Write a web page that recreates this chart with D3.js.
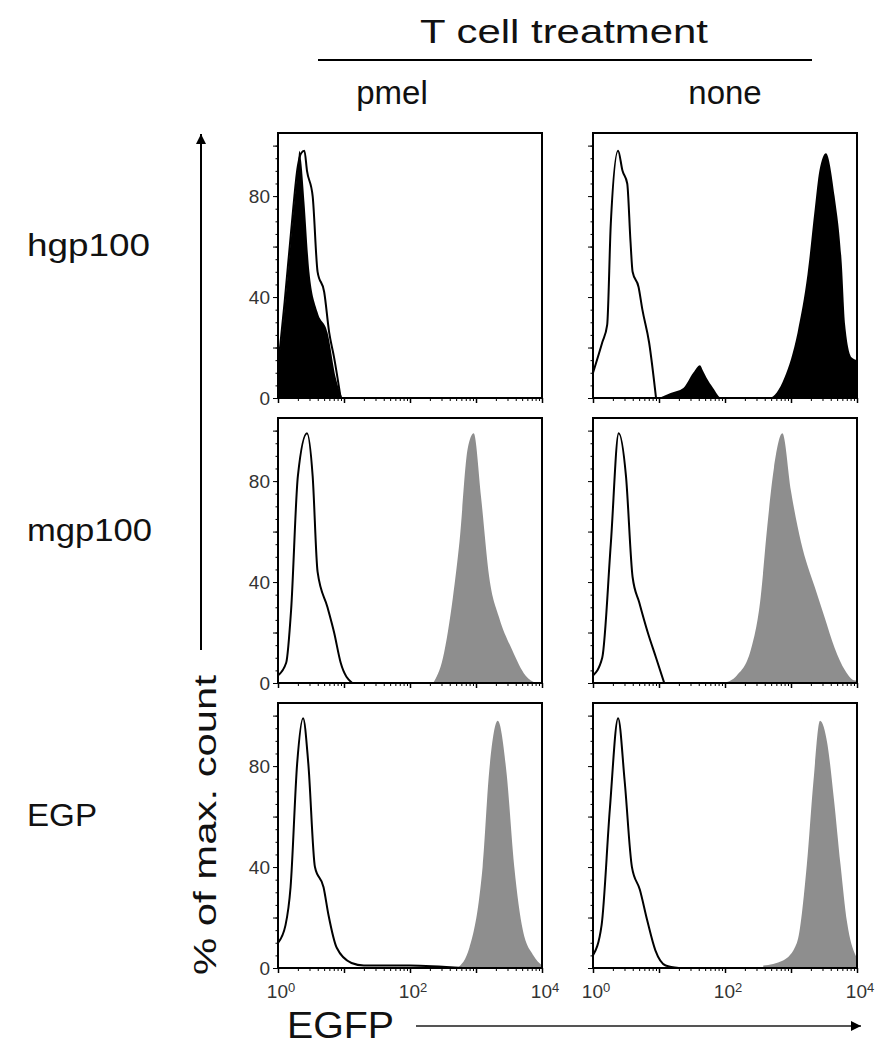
<!DOCTYPE html>
<html>
<head>
<meta charset="utf-8">
<script src="https://cdn.jsdelivr.net/npm/d3@7"></script>
<style>
body { margin: 0; background: #fff; }
text { font-family: "Liberation Sans", Arial, sans-serif; fill: #111; }
</style>
</head>
<body>
<div id="graphCanvas"></div>
<script>
// row / column names
var rowNames = ["hgp100", "mgp100", "EGP"];
var rowLabelWidths = [123, 125, 70];
var colNames = ["pmel", "none"];
var yTickLabels = [0, 40, 80];
var xTickLabels = [1, 100, 10000];
var xTickExp = ["0", "2", "4"];

// histograms: [EGFP, % of max]
var hgpPmelOpen = [[1,12],[1.26,38],[1.58,66],[2.0,92],[2.24,97],[2.51,98],[2.75,90],[3.35,80],[3.98,50],[5.01,42],[5.96,26],[7.08,16],[8.91,0]];
var hgpPmelFill = [[1,12],[1.26,36],[1.58,64],[2.0,92],[2.11,98],[2.24,94],[2.51,78],[2.99,50],[3.98,34],[5.62,26],[7.5,8],[9.44,0]];
var hgpNoneOpen = [[1,10],[1.38,22],[1.64,29],[1.86,69],[2.4,98],[2.8,90],[3.3,85],[3.7,62],[3.98,50],[4.9,44],[5.6,35],[7.08,22],[9.02,0]];
var hgpNoneFill = [[10,0],[15,2],[23.4,4],[33,10],[41.7,13],[46,11],[52.5,8],[66,4],[89,0],[468,0],[794,8],[1259,26],[1778,49],[2291,75],[2692,90],[3388,97],[4571,80],[5888,53],[6607,29],[8318,16],[10000,15]];
var mgpPmelOpen = [[1,3],[1.33,8],[1.58,29],[2.0,82],[2.75,99],[3.35,82],[3.98,44],[5.62,30],[7.08,20],[8.91,8],[13.3,0]];
var mgpPmelFill = [[224,0],[316,10],[447,34],[562,56],[750,93],[923,99],[1189,74],[1585,42],[2239,26],[3548,13],[5623,3],[8000,0]];
var mgpNoneOpen = [[1,3],[1.38,10],[1.86,55],[2.45,99],[3.16,82],[3.98,42],[5.01,32],[6.76,20],[9.02,10],[12,0]];
var mgpNoneFill = [[95.5,0],[151,3],[245,13],[347,34],[437,62],[550,85],[741,99],[1000,76],[1413,56],[2291,38],[3236,26],[4571,14],[6607,5],[9333,1],[10000,1]];
var egpPmelOpen = [[1,10],[1.3,17],[1.55,32],[1.95,81],[2.4,99],[2.88,81],[3.63,40],[4.9,32],[5.82,21],[7.76,8],[13,2],[20,1],[100,1],[631,0]];
var egpPmelFill = [[525,0],[794,8],[1122,28],[1259,40],[1585,78],[2138,98],[2884,78],[3802,40],[5129,15],[7413,5],[10000,1]];
var egpNoneOpen = [[1,5],[1.35,17],[1.8,63],[2.4,99],[3.02,74],[3.89,40],[5.13,31],[6.61,19],[8.81,7],[12.6,1],[20,0]];
var egpNoneFill = [[380,1],[759,3],[1230,10],[1738,41],[2188,74],[2754,98],[3548,89],[4467,67],[5623,41],[7079,18],[9550,5],[10000,4]];

var openSeries = [[hgpPmelOpen, hgpNoneOpen], [mgpPmelOpen, mgpNoneOpen], [egpPmelOpen, egpNoneOpen]];
var fillSeries = [[hgpPmelFill, hgpNoneFill], [mgpPmelFill, mgpNoneFill], [egpPmelFill, egpNoneFill]];

var width = 887, height = 1050;
var panelLeft = [278, 593], panelTop = [133, 418, 703];
var pw = 264, ph = 265;

var svg = d3.select("#graphCanvas").append("svg")
    .attr("width", width)
    .attr("height", height);

var defs = svg.append("defs");
defs.append("marker")
    .attr("id", "arrow")
    .attr("viewBox", "0 0 10 10")
    .attr("refX", 10).attr("refY", 5)
    .attr("markerWidth", 10).attr("markerHeight", 10)
    .attr("markerUnits", "userSpaceOnUse")
    .attr("orient", "auto")
  .append("path")
    .attr("d", "M0,0L10,5L0,10Z")
    .attr("fill", "#000");

var x = d3.scaleLog().domain([1, 10000]).range([0, pw]);
var y = d3.scaleLinear().domain([0, 105]).range([ph, 0]);

var area = d3.area()
    .curve(d3.curveMonotoneX)
    .x(function(d) { return x(d[0]); })
    .y0(y(0))
    .y1(function(d) { return y(d[1]); });
var line = d3.line()
    .curve(d3.curveMonotoneX)
    .x(function(d) { return x(d[0]); })
    .y(function(d) { return y(d[1]); });

var minorX = x.ticks().filter(function(v) { return Math.log10(v) % 1 !== 0; });

defs.append("clipPath").attr("id", "panelClip")
  .append("rect").attr("width", pw).attr("height", ph);

rowNames.forEach(function(rowName, r) {
  colNames.forEach(function(colName, c) {
    var g = svg.append("g")
        .attr("transform", "translate(" + panelLeft[c] + "," + panelTop[r] + ")");

    var plot = g.append("g").attr("clip-path", "url(#panelClip)");
    plot.append("path")
        .datum(fillSeries[r][c])
        .attr("d", area)
        .attr("fill", r === 0 ? "#000" : "#8e8e8e");
    plot.append("path")
        .datum(openSeries[r][c])
        .attr("d", line)
        .attr("fill", "none")
        .attr("stroke", "#000")
        .attr("stroke-width", 2);

    // y ticks
    var ya = g.append("g")
        .call(d3.axisLeft(y).tickValues([0, 20, 40, 60, 80, 100]).tickSize(5).tickFormat(""));
    ya.select(".domain").remove();
    var ym = g.append("g")
        .call(d3.axisLeft(y).tickValues(d3.range(0, 105, 5)).tickSize(2.5).tickFormat(""));
    ym.select(".domain").remove();
    if (c === 0) {
      g.selectAll(".ylab")
        .data(yTickLabels)
        .enter().append("text")
          .attr("x", -8)
          .attr("y", function(d) { return y(d); })
          .attr("dy", "0.36em")
          .attr("text-anchor", "end")
          .style("font-size", "19px")
          .style("fill", "#333")
          .text(function(d) { return d; });
    }

    // x ticks
    var xa = g.append("g").attr("transform", "translate(0," + ph + ")")
        .call(d3.axisBottom(x).tickValues([1, 10, 100, 1000, 10000]).tickSize(5).tickFormat(""));
    xa.select(".domain").remove();
    xa.selectAll("line").attr("stroke-width", 1.5);
    var xm = g.append("g").attr("transform", "translate(0," + ph + ")")
        .call(d3.axisBottom(x).tickValues(minorX).tickSize(3).tickFormat(""));
    xm.select(".domain").remove();

    if (r === rowNames.length - 1) {
      var lab = g.selectAll(".xlab")
        .data(xTickLabels)
        .enter().append("text")
          .attr("x", function(d) { return x(d) + 3; })
          .attr("y", ph + 30)
          .attr("text-anchor", "middle")
          .style("font-size", "19px")
          .style("fill", "#333");
      lab.append("tspan").text("10");
      lab.append("tspan")
          .attr("dy", "-0.5em")
          .style("font-size", "13px")
          .text(function(d, i) { return xTickExp[i]; });
    }

    g.append("rect")
        .attr("width", pw).attr("height", ph)
        .attr("fill", "none")
        .attr("stroke", "#000")
        .attr("stroke-width", 2);
  });

  svg.append("text")
      .attr("x", 27)
      .attr("y", panelTop[r] + 123)
      .attr("textLength", rowLabelWidths[r])
      .attr("lengthAdjust", "spacingAndGlyphs")
      .style("font-size", "31px")
      .text(rowName);
});

// header
svg.append("text")
    .attr("x", 420).attr("y", 43)
    .attr("textLength", 288)
    .attr("lengthAdjust", "spacingAndGlyphs")
    .style("font-size", "34px")
    .text("T cell treatment");
svg.append("line")
    .attr("x1", 318).attr("x2", 812)
    .attr("y1", 60).attr("y2", 60)
    .attr("stroke", "#000").attr("stroke-width", 2);
var colCenters = [392, 725];
colNames.forEach(function(name, c) {
  svg.append("text")
      .attr("x", colCenters[c]).attr("y", 104)
      .attr("text-anchor", "middle")
      .style("font-size", "33px")
      .text(name);
});

// y axis title with arrow
svg.append("line")
    .attr("x1", 201).attr("x2", 201)
    .attr("y1", 650).attr("y2", 134)
    .attr("stroke", "#000").attr("stroke-width", 2)
    .attr("marker-end", "url(#arrow)");
svg.append("text")
    .attr("transform", "translate(216,975) rotate(-90)")
    .attr("textLength", 300)
    .attr("lengthAdjust", "spacingAndGlyphs")
    .style("font-size", "32px")
    .text("% of max. count");

// x axis title with arrow
svg.append("text")
    .attr("x", 287).attr("y", 1038)
    .attr("textLength", 107)
    .attr("lengthAdjust", "spacingAndGlyphs")
    .style("font-size", "36px")
    .text("EGFP");
svg.append("line")
    .attr("x1", 416).attr("x2", 861)
    .attr("y1", 1026).attr("y2", 1026)
    .attr("stroke", "#555").attr("stroke-width", 2)
    .attr("marker-end", "url(#arrow)");
</script>
</body>
</html>
